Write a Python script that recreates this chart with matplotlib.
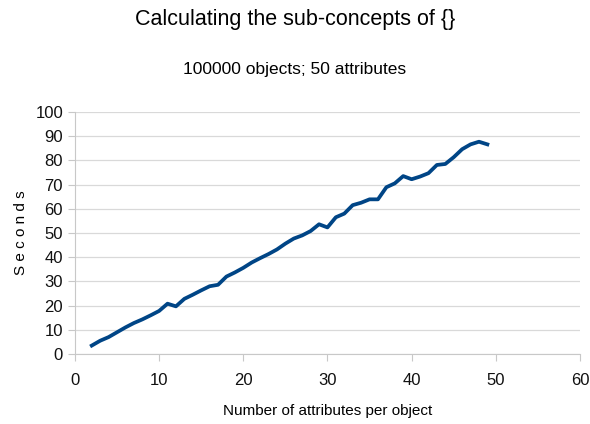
import matplotlib
matplotlib.use("Agg")
import matplotlib.pyplot as plt
from matplotlib import font_manager

# font: narrow sans if present
names = {f.name for f in font_manager.fontManager.ttflist}
fam = "Liberation Sans Narrow" if "Liberation Sans Narrow" in names else "Liberation Sans"
plt.rcParams["font.family"] = [fam, "DejaVu Sans"]

attrs = [2, 3, 4, 5, 6, 7, 8, 9, 10, 11, 12, 13, 14, 15, 16, 17, 18, 19, 20, 21,
         22, 23, 24, 25, 26, 27, 28, 29, 30, 31, 32, 33, 34, 35, 36, 37, 38, 39, 40,
         41, 42, 43, 44, 45, 46, 47, 48, 49]
seconds = [3.5, 5.5, 7.0, 9.0, 11.0, 12.8, 14.3, 16.0, 17.8, 20.8, 19.7, 22.8, 24.5,
           26.3, 28.0, 28.6, 32.0, 33.7, 35.6, 37.8, 39.6, 41.3, 43.2, 45.6, 47.7,
           49.0, 50.8, 53.6, 52.3, 56.5, 58.0, 61.5, 62.5, 63.9, 63.9, 68.9, 70.5,
           73.5, 72.2, 73.3, 74.7, 78.1, 78.5, 81.3, 84.6, 86.6, 87.7, 86.6]

fig = plt.figure(figsize=(5.9, 4.24), dpi=100)
ax = fig.add_axes([0.127, 0.165, 0.856, 0.571])

ax.plot(attrs, seconds, color="#004586", linewidth=2.7, solid_joinstyle="round")

ax.set_xlim(0, 60)
ax.set_ylim(0, 100)
ax.set_xticks(range(0, 61, 10))
ax.set_yticks(range(0, 101, 10))
ax.grid(axis="y", color="#d9d9d9", linewidth=0.9)
ax.set_axisbelow(True)
for s in ["top", "right"]:
    ax.spines[s].set_visible(False)
for s in ["left", "bottom"]:
    ax.spines[s].set_color("#c8c8c8")
ax.tick_params(colors="#c8c8c8", labelcolor="#111111", labelsize=12, length=5)
ax.tick_params(axis="x", pad=9)

ax.set_xlabel("Number of attributes per object", fontsize=11, labelpad=11)
ax.set_ylabel("S e c o n d s", fontsize=11, labelpad=5)

fig.text(0.5, 0.955, "Calculating the sub-concepts of {}", ha="center", va="center", fontsize=15.5)
fig.text(0.5, 0.835, "100000 objects; 50 attributes", ha="center", va="center", fontsize=12.5)

fig.savefig("out.png", dpi=100)
